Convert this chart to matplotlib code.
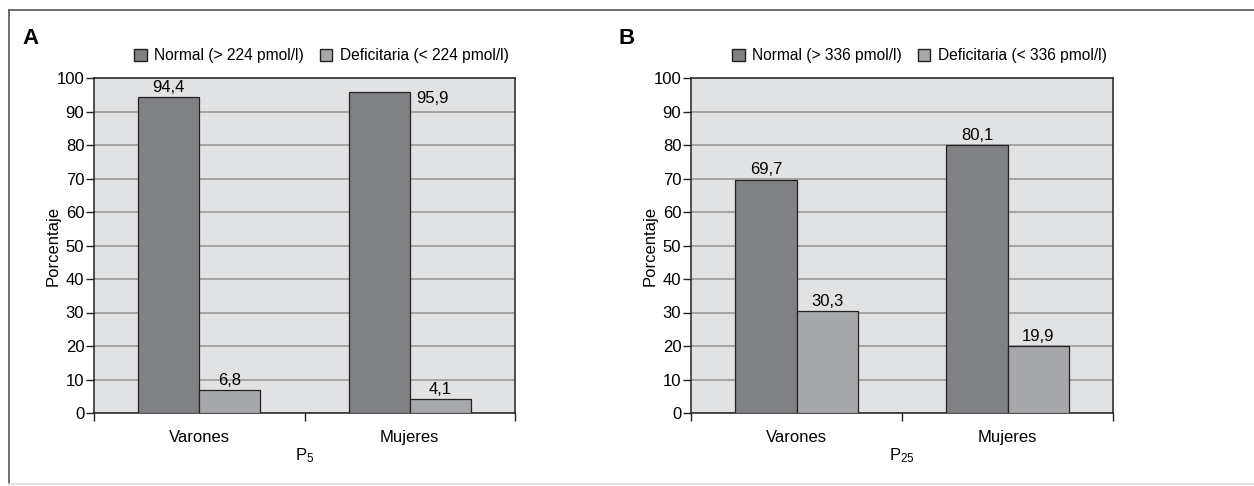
import numpy as np
import matplotlib.pyplot as plt
from matplotlib.lines import Line2D
from matplotlib.patches import Patch

plt.rcParams['font.family'] = ['Liberation Sans', 'DejaVu Sans']

categorias = ['Varones', 'Mujeres']
normal_a = [94.4, 95.9]
defic_a = [6.8, 4.1]
normal_b = [69.7, 80.1]
defic_b = [30.3, 19.9]
leyenda_a = ['Normal (> 224 pmol/l)', 'Deficitaria (< 224 pmol/l)']
leyenda_b = ['Normal (> 336 pmol/l)', 'Deficitaria (< 336 pmol/l)']

c_dark = '#808184'
c_light = '#a7a8ab'
c_bg = '#e1e2e4'
W, H = 1254, 486
fs = 12

fig = plt.figure(figsize=(W / 100, H / 100), dpi=100)

# outer frame
fig.add_artist(Line2D([9 / W, 1], [1 - 10 / H, 1 - 10 / H], color='#555555', lw=1.2))
fig.add_artist(Line2D([9 / W, 9 / W], [1 - 10 / H, 1 - 484 / H], color='#555555', lw=1.2))
fig.add_artist(Line2D([9 / W, 1], [1 - 484 / H, 1 - 484 / H], color='#dddddd', lw=1.2))


def panel(left, right, letra, normal, defic, leyenda, xlab, pos_lab):
    ax = fig.add_axes([left / W, 1 - 413 / H, (right - left) / W, (413 - 78) / H])
    ax.set_facecolor(c_bg)
    x = np.arange(len(categorias))
    w = 0.29
    ax.bar(x - w / 2, normal, w, color=c_dark, edgecolor='#222222', lw=0.9, zorder=3)
    ax.bar(x + w / 2, defic, w, color=c_light, edgecolor='#222222', lw=0.9, zorder=3)
    for i, v in enumerate(normal):
        s = f'{v:.1f}'.replace('.', ',')
        if pos_lab[i] == 'right':
            ax.text(x[i] + 0.03, v + 0.3, s, ha='left', va='top', fontsize=fs)
        else:
            ax.text(x[i] - w / 2, v + 0.6, s, ha='center', va='bottom', fontsize=fs)
    for i, v in enumerate(defic):
        s = f'{v:.1f}'.replace('.', ',')
        ax.text(x[i] + w / 2, v + 0.6, s, ha='center', va='bottom', fontsize=fs)
    ax.set_xlim(-0.5, 1.5)
    ax.set_ylim(0, 100)
    ax.set_yticks(range(0, 101, 10))
    ax.set_xticks(x)
    ax.set_xticklabels(categorias)
    ax.set_xticks([-0.5, 0.5, 1.5], minor=True)
    ax.tick_params(axis='x', which='major', length=0, labelsize=fs, pad=12)
    ax.tick_params(axis='x', which='minor', length=6, width=1, color='#222222')
    ax.tick_params(axis='y', length=6, width=1, color='#222222', labelsize=fs, pad=1)
    ax.grid(axis='y', color='#999999', lw=1.2, zorder=1)
    for sp in ax.spines.values():
        sp.set_color('#222222')
        sp.set_linewidth(1.1)
    ax.set_ylabel('Porcentaje', fontsize=fs, labelpad=-3)
    ax.set_xlabel(xlab, fontsize=fs, labelpad=1)
    handles = [Patch(facecolor=c_dark, edgecolor='#222222'),
               Patch(facecolor=c_light, edgecolor='#222222')]
    ax.legend(handles, leyenda, loc='lower right', bbox_to_anchor=(1.0, 1.025),
              ncol=2, frameon=False, fontsize=11.2, handlelength=0.8, handleheight=0.8,
              handletextpad=0.5, columnspacing=1.0, borderaxespad=0)
    fig.text((left - 72) / W, 1 - 38 / H, letra, fontsize=16, fontweight='bold', va='center')
    return ax


panel(94, 515, 'A', normal_a, defic_a, leyenda_a, r'$\mathregular{P_5}$', ['above', 'right'])
panel(691, 1113, 'B', normal_b, defic_b, leyenda_b, r'$\mathregular{P_{25}}$', ['above', 'above'])

fig.savefig('out.png', dpi=100)
